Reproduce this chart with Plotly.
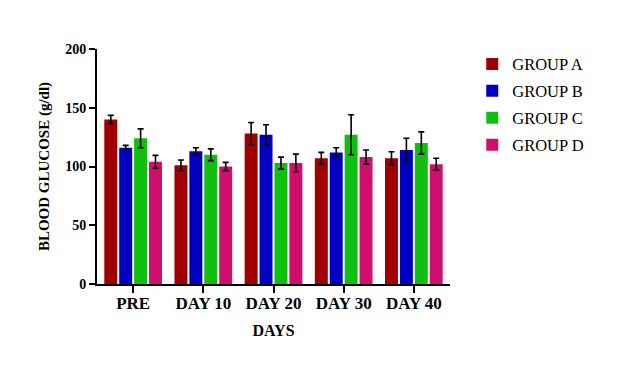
import plotly.graph_objects as go

categories = ["PRE", "DAY 10", "DAY 20", "DAY 30", "DAY 40"]
groups = ["GROUP A", "GROUP B", "GROUP C", "GROUP D"]
colors = ["#a00000", "#0000c0", "#10bf10", "#cf0f6e"]

group_a = [140, 101, 128, 107, 107]
group_b = [116, 113, 127, 112, 114]
group_c = [124, 110, 103, 127, 120]
group_d = [104, 100, 103, 108, 102]

err_a = [3.5, 4.5, 9.5, 5, 5.5]
err_b = [2, 3, 8.5, 4, 10]
err_c = [8, 5, 5, 17, 9.5]
err_d = [5.5, 3.5, 7.5, 6, 5]

values = [group_a, group_b, group_c, group_d]
errors = [err_a, err_b, err_c, err_d]

y_ticks = [0, 50, 100, 150, 200]

FONT = "Liberation Serif"

fig = go.Figure()
for name, vals, errs, col in zip(groups, values, errors, colors):
    fig.add_trace(go.Bar(
        x=categories, y=vals, name=name,
        marker=dict(color=col, line=dict(width=0)),
        error_y=dict(type="data", array=errs, visible=True,
                     color="black", thickness=1.6, width=3),
        legendgroup=name,
    ))

fig.update_layout(
    width=616, height=349,
    margin=dict(l=89, r=174, t=41, b=73),
    paper_bgcolor="white", plot_bgcolor="white",
    barmode="group", bargap=0.15, bargroupgap=0.13,
    font=dict(family=FONT, color="black"),
    showlegend=True,
    legend=dict(x=1.063, y=1.01, xanchor="left", yanchor="top",
                font=dict(family=FONT, size=16.5, color="black"),
                tracegroupgap=2.5, bgcolor="rgba(0,0,0,0)"),
    xaxis=dict(
        type="category", range=[-0.515, 4.515],
        showline=True, linecolor="black", linewidth=2,
        ticks="outside", ticklen=7, tickwidth=2, tickcolor="black",
        ticklabelstandoff=-4,
        tickfont=dict(family=FONT, size=17, color="black", weight="bold"),
        showgrid=False, zeroline=False,
        title=dict(text="DAYS", font=dict(family=FONT, size=16, color="black", weight="bold"),
                   standoff=12),
    ),
    yaxis=dict(
        range=[0, 200], tickvals=y_ticks,
        showline=True, linecolor="black", linewidth=2,
        ticks="outside", ticklen=6, tickwidth=2, tickcolor="black",
        tickfont=dict(family=FONT, size=14, color="black", weight="bold"),
        showgrid=False, zeroline=False,
        title=dict(text="BLOOD GLUCOSE (g/dl)",
                   font=dict(family=FONT, size=15, color="black", weight="bold"),
                   standoff=12),
    ),
)

fig.write_html("out.html")
